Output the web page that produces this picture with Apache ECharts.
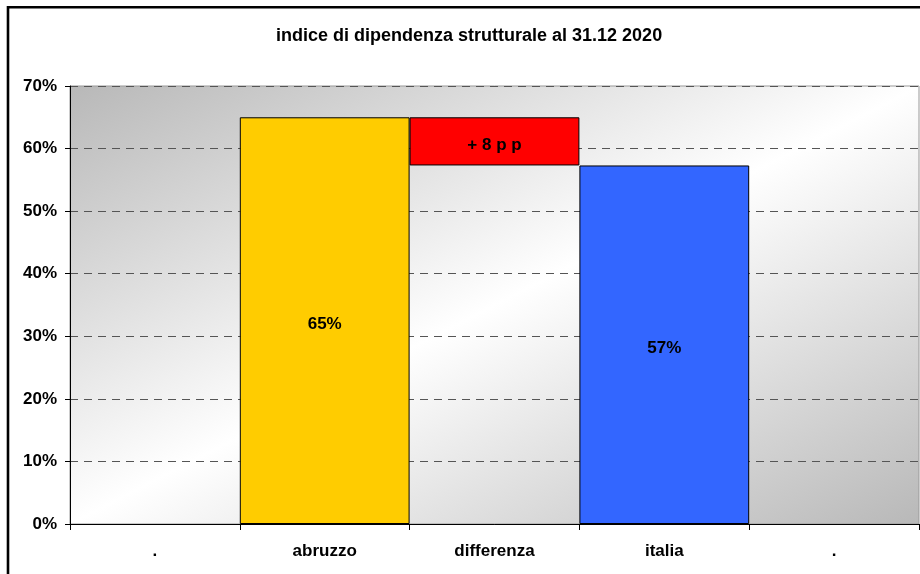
<!DOCTYPE html>
<html>
<head>
<meta charset="utf-8">
<script src="https://cdn.jsdelivr.net/npm/echarts@6/dist/echarts.min.js"></script>
<style>
  html, body { margin: 0; padding: 0; background: #fff; }
  #chart { width: 920px; height: 574px; }
</style>
</head>
<body>
<div id="chart"></div>
<script>
var titleText = 'indice di dipendenza strutturale al 31.12 2020';
var categories = ['.', 'abruzzo', 'differenza', 'italia', '.'];
var abruzzo = 65.0;   // % abruzzo
var italia = 57.3;    // % italia
var yTicks = [0, 10, 20, 30, 40, 50, 60, 70];
var barColors = ['#FFCC00', '#FF0000', '#3366FF'];

var diff = abruzzo - italia;
// base invisibile sotto la barra differenza
var baseValues = [0, 0, italia, 0, 0];
var mainValues = ['-', abruzzo, diff, italia, '-'];

var font = 'Liberation Sans, Arial, sans-serif';

var mainData = mainValues.map(function (v, i) {
    if (v === '-') return '-';
    return { value: v, itemStyle: { color: barColors[i - 1] } };
});

var chart = echarts.init(document.getElementById('chart'));

// gradiente diagonale dello sfondo (isolinee lungo l'antidiagonale)
var w = 849, h = 438;
var gx = 2 * h * h / (h * h + w * w), gy = 2 * w * w / (h * h + w * w);

var option = {
    animation: false,
    backgroundColor: '#fff',
    title: {
        text: titleText,
        left: 271,
        top: 22,
        textStyle: { fontFamily: font, fontSize: 18, fontWeight: 'bold', color: '#000' }
    },
    graphic: [{
        type: 'rect',
        shape: { x: 8, y: 7.3, width: 1000, height: 1000 },
        style: { fill: 'none', stroke: '#000', lineWidth: 2.6 },
        z: 100
    }],
    grid: {
        left: 70, right: 1, top: 86, bottom: 50,
        show: true,
        borderColor: '#999',
        borderWidth: 1,
        backgroundColor: new echarts.graphic.LinearGradient(0, 0, gx, gy, [
            { offset: 0, color: '#b8b8b8' },
            { offset: 0.5, color: '#ffffff' },
            { offset: 1, color: '#b8b8b8' }
        ])
    },
    xAxis: {
        type: 'category',
        data: categories,
        axisLine: { lineStyle: { color: '#000', width: 1 } },
        axisTick: { show: true, length: 6, lineStyle: { color: '#000' } },
        axisLabel: {
            margin: 19,
            fontFamily: font, fontSize: 17, fontWeight: 'bold', color: '#000'
        }
    },
    yAxis: {
        type: 'value',
        min: yTicks[0],
        max: yTicks[yTicks.length - 1],
        interval: 10,
        axisLine: { show: true, lineStyle: { color: '#000', width: 1 } },
        axisTick: { show: true, length: 5, lineStyle: { color: '#000' } },
        axisLabel: {
            margin: 13,
            formatter: '{value}%',
            fontFamily: font, fontSize: 17, fontWeight: 'bold', color: '#000'
        },
        splitLine: { show: true, lineStyle: { color: '#555', type: [8, 6], width: 1 } }
    },
    series: [{
        name: 'base',
        type: 'bar',
        stack: 'tot',
        barCategoryGap: '0%',
        data: baseValues,
        itemStyle: { color: 'transparent' },
        silent: true
    }, {
        name: 'valori',
        type: 'bar',
        stack: 'tot',
        barCategoryGap: '0%',
        data: mainData,
        itemStyle: { borderColor: '#000', borderWidth: 1 },
        label: {
            show: true,
            position: 'inside',
            offset: [0, 4],
            fontFamily: font, fontSize: 17, fontWeight: 'bold', color: '#000',
            formatter: function (p) {
                if (p.dataIndex === 2) return '+ ' + Math.round(p.value) + ' p p';
                return Math.round(p.value) + '%';
            }
        }
    }]
};

chart.setOption(option);
</script>
</body>
</html>
